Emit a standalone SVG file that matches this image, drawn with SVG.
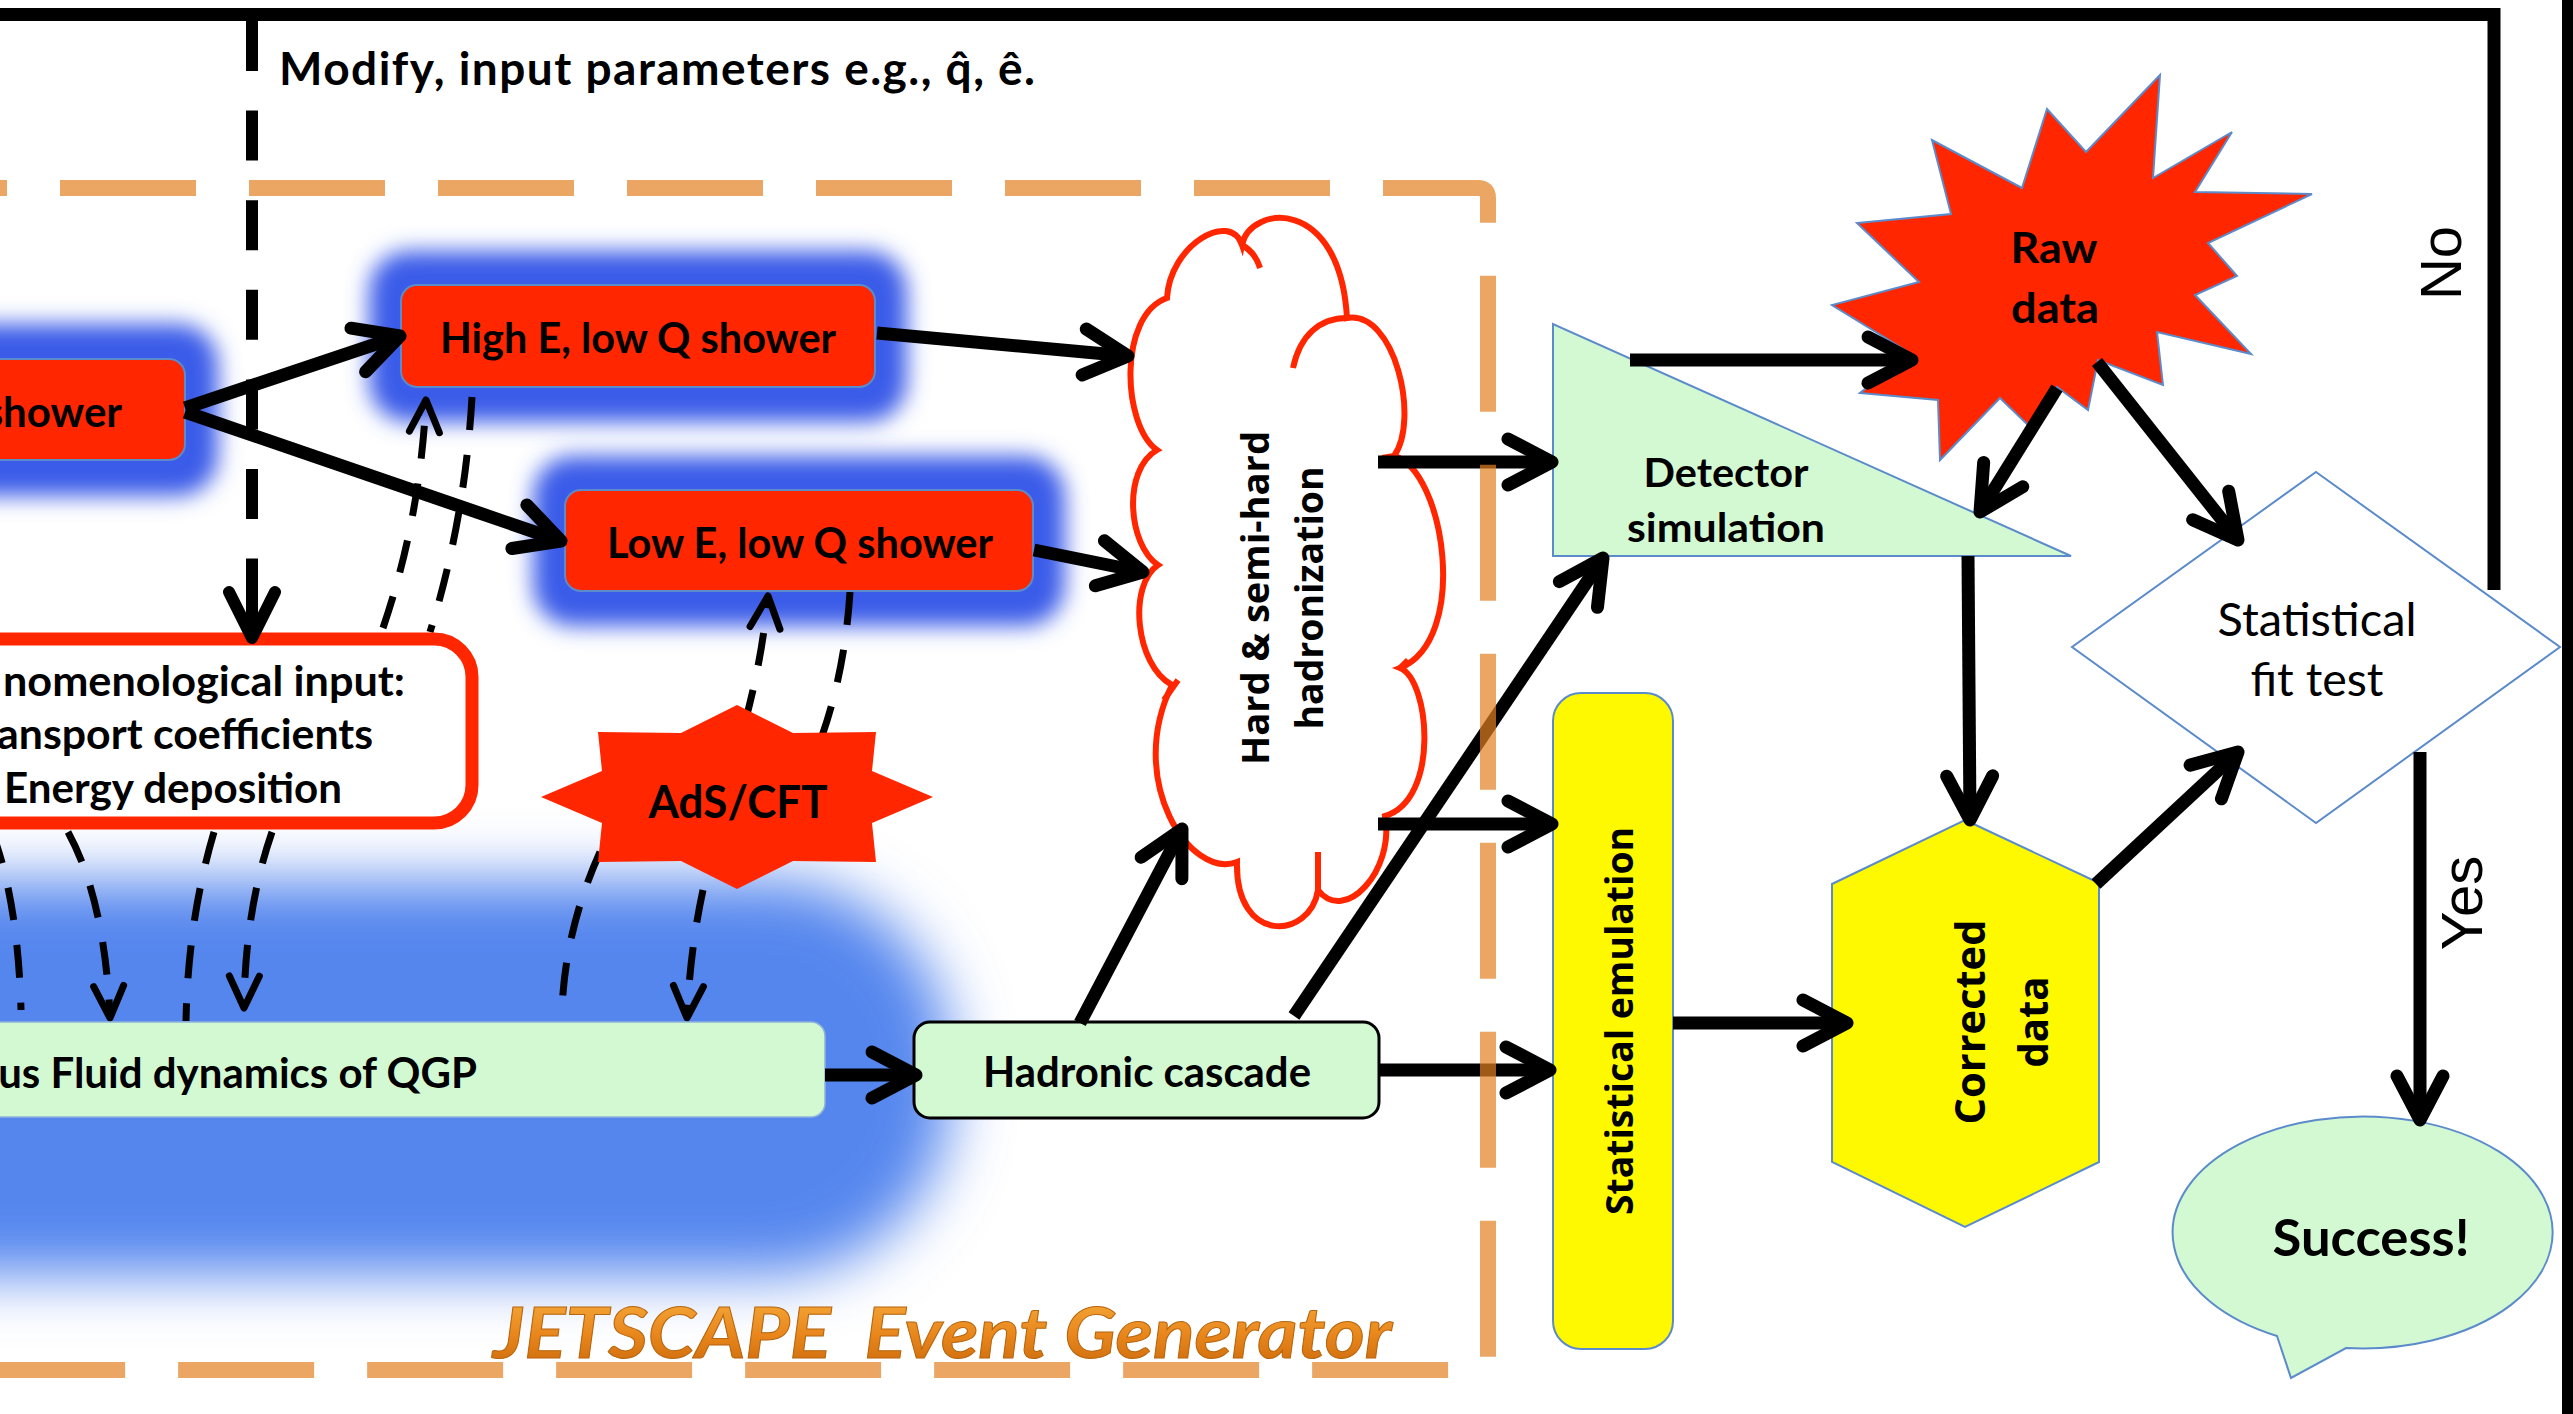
<svg xmlns="http://www.w3.org/2000/svg" width="2573" height="1414" viewBox="0 0 2573 1414">
<style>
.lato{font-family:Lato,"Liberation Sans",sans-serif;font-weight:700;fill:#000}
.latoR{font-family:Lato,"Liberation Sans",sans-serif;font-weight:400;fill:#000}
.os{font-family:"Open Sans","DejaVu Sans",sans-serif;font-weight:700;fill:#000}
.ar{font-family:"Liberation Sans",Arial,sans-serif;font-weight:400;fill:#000}
.thick{fill:none;stroke:#000;stroke-width:13;stroke-linecap:butt;marker-end:url(#ah)}
.dash{fill:none;stroke:#000;stroke-width:7;stroke-dasharray:33 25}
.dashA{fill:none;stroke:#000;stroke-width:7;stroke-dasharray:33 25;marker-end:url(#ahd)}
.redbox{fill:#FF2600;stroke:#5B8BCB;stroke-width:2}
.blueline{stroke:#5B8BCB;stroke-width:2}
.glow{fill:#3B5BE8;filter:url(#fGlow)}
</style>
<defs>
<filter id="fBig" x="-50%" y="-50%" width="200%" height="200%"><feGaussianBlur stdDeviation="30"/></filter>
<filter id="fGlow" x="-30%" y="-60%" width="160%" height="220%"><feGaussianBlur stdDeviation="11"/></filter>
<linearGradient id="gOrange" x1="0" y1="0" x2="0" y2="1">
<stop offset="0" stop-color="#F7B040"/><stop offset="0.55" stop-color="#E8861C"/><stop offset="1" stop-color="#C8660A"/>
</linearGradient>
<marker id="ah" markerUnits="userSpaceOnUse" orient="auto" overflow="visible" markerWidth="1" markerHeight="1" refX="0" refY="0">
<path d="M -44 -23 L 0 0 L -44 23" fill="none" stroke="#000" stroke-width="13" stroke-linecap="round" stroke-linejoin="round"/>
</marker>
<marker id="ahd" markerUnits="userSpaceOnUse" orient="auto" overflow="visible" markerWidth="1" markerHeight="1" refX="0" refY="0">
<path d="M -32 -15 L 0 0 L -32 15" fill="none" stroke="#000" stroke-width="7" stroke-linecap="round" stroke-linejoin="round"/>
</marker>
<marker id="ahm" markerUnits="userSpaceOnUse" orient="auto" overflow="visible" markerWidth="1" markerHeight="1" refX="0" refY="0">
<path d="M -46 -23 L 0 0 L -46 23" fill="none" stroke="#000" stroke-width="12" stroke-linecap="round" stroke-linejoin="round"/>
</marker>
</defs>
<rect x="0" y="0" width="2573" height="1414" fill="#fff"/>

<!-- background glows -->
<g id="glows">
<rect x="-300" y="880" width="1250" height="395" rx="180" fill="#5486EE" filter="url(#fBig)"/>
<rect class="glow" x="-60" y="324" width="278" height="172" rx="40"/>
<rect class="glow" x="369" y="251" width="538" height="171" rx="40"/>
<rect class="glow" x="533" y="456" width="532" height="170" rx="40"/>
</g>

<!-- dashed connectors (behind nodes) -->
<g id="connectors-dashed">
<path class="dashA" d="M 383 628 Q 420 520 426 400"/>
<path class="dash" d="M 472 397 Q 465 520 430 632"/>
<path class="dash" d="M -8 832 Q 18 900 21 1010"/>
<path class="dashA" d="M 68 832 Q 105 900 110 1018"/>
<path class="dash" d="M 214 832 Q 188 920 186 1021"/>
<path class="dashA" d="M 272 832 Q 245 910 244 1008"/>
<path class="dashA" d="M 745 722 Q 762 660 768 596"/>
<path class="dash" d="M 850 592 Q 845 670 822 736"/>
<path class="dash" d="M 600 852 Q 565 930 562 1010"/>
<path class="dashA" d="M 703 890 Q 690 950 687 1018"/>
</g>

<!-- nodes -->
<g id="node-shower">
<rect class="redbox" x="-30" y="359" width="215" height="101" rx="16"/>
<text class="lato" x="122" y="427" font-size="42" text-anchor="end">shower</text>
</g>
<g id="node-high-e">
<rect class="redbox" x="401" y="285" width="474" height="102" rx="16"/>
<text class="lato" x="638" y="353" font-size="42" text-anchor="middle" textLength="396" lengthAdjust="spacingAndGlyphs">High E, low Q shower</text>
</g>
<g id="node-low-e">
<rect class="redbox" x="565" y="490" width="468" height="101" rx="16"/>
<text class="lato" x="800" y="558" font-size="42" text-anchor="middle" textLength="386" lengthAdjust="spacingAndGlyphs">Low E, low Q shower</text>
</g>
<g id="node-phenomenological">
<rect x="-40" y="639" width="512" height="184" rx="38" fill="#fff" stroke="#FF2600" stroke-width="13"/>
<text class="lato" x="3" y="696" font-size="42" textLength="402" lengthAdjust="spacingAndGlyphs">nomenological input:</text>
<text class="lato" x="-3" y="749" font-size="42" textLength="376" lengthAdjust="spacingAndGlyphs">ansport coefficients</text>
<text class="lato" x="4" y="803" font-size="42" textLength="338" lengthAdjust="spacingAndGlyphs">Energy deposition</text>
</g>
<g id="node-adscft">
<polygon fill="#FF2600" points="933,797 872,771 876,732 793,733 737,705 681,733 598,732 602,771 541,797 602,823 598,862 681,861 737,889 793,861 876,862 872,823"/>
<text class="lato" x="738" y="818" font-size="46" text-anchor="middle" textLength="179" lengthAdjust="spacingAndGlyphs">AdS/CFT</text>
</g>
<g id="node-fluid">
<rect x="-30" y="1022" width="855" height="95" rx="14" fill="#D3F9D3" stroke="#8FB4D9" stroke-width="1.5"/>
<text class="lato" x="477" y="1088" font-size="42" text-anchor="end">us Fluid dynamics of QGP</text>
</g>
<g id="node-hadronic">
<rect x="914" y="1022" width="465" height="96" rx="16" fill="#D3F9D3" stroke="#000" stroke-width="3"/>
<text class="lato" x="1147" y="1087" font-size="42" text-anchor="middle" textLength="328" lengthAdjust="spacingAndGlyphs">Hadronic cascade</text>
</g>
<g id="node-hadronization">
<path d="M 1167 298 C 1170 245 1230 210 1242 245 C 1250 205 1340 195 1347 318 C 1395 310 1420 420 1394 456 C 1445 470 1470 640 1400 668 C 1430 680 1440 800 1385 816 C 1395 870 1345 925 1318 890 C 1310 940 1235 945 1237 862 C 1190 880 1125 780 1172 685 C 1135 665 1128 585 1158 565 C 1128 545 1122 470 1157 450 C 1122 425 1118 315 1167 298 Z" fill="#fff" stroke="#FF2600" stroke-width="6"/>
<path d="M 1242 245 Q 1255 252 1260 268 M 1293 368 C 1300 335 1320 318 1347 318 M 1318 852 L 1318 890 M 1164 700 L 1178 680 M 1394 456 L 1382 458 M 1400 668 L 1408 660" fill="none" stroke="#FF2600" stroke-width="6"/>
<text class="os" transform="translate(1269 598) rotate(-90)" font-size="38" text-anchor="middle" textLength="334" lengthAdjust="spacingAndGlyphs">Hard &amp; semi-hard</text>
<text class="os" transform="translate(1323 598) rotate(-90)" font-size="38" text-anchor="middle" textLength="263" lengthAdjust="spacingAndGlyphs">hadronization</text>
</g>
<g id="node-detector">
<polygon points="1553,324 1553,556 2071,556" fill="#D3F9D3" class="blueline"/>
<text class="lato" x="1726" y="487" font-size="40" text-anchor="middle" textLength="165" lengthAdjust="spacingAndGlyphs">Detector</text>
<text class="lato" x="1726" y="542" font-size="40" text-anchor="middle" textLength="198" lengthAdjust="spacingAndGlyphs">simulation</text>
</g>
<g id="node-raw-data">
<polygon fill="#FF2600" class="blueline" points="2160,75 2153,178 2232,132 2195,192 2312,194 2208,243 2237,276 2195,295 2251,354 2157,332 2163,385 2098,360 2088,410 2057,387 2030,427 2000,398 1940,460 1938,400 1860,393 1910,353 1832,305 1919,282 1857,223 1951,214 1932,140 2022,188 2047,109 2086,152"/>
<text class="lato" x="2054" y="263" font-size="42" text-anchor="middle" textLength="87" lengthAdjust="spacingAndGlyphs">Raw</text>
<text class="lato" x="2055" y="323" font-size="42" text-anchor="middle" textLength="88" lengthAdjust="spacingAndGlyphs">data</text>
</g>
<g id="node-fit-test">
<polygon points="2316,472 2560,647 2316,823 2072,647" fill="#fff" class="blueline"/>
<text class="latoR" x="2317" y="636" font-size="46" text-anchor="middle" textLength="199" lengthAdjust="spacingAndGlyphs">Statistical</text>
<text class="latoR" x="2317" y="696" font-size="46" text-anchor="middle" textLength="133" lengthAdjust="spacingAndGlyphs">fit test</text>
</g>
<g id="node-emulation">
<rect x="1553" y="693" width="120" height="656" rx="28" fill="#FFF900" class="blueline"/>
<text class="os" transform="translate(1633 1021) rotate(-90)" font-size="38" text-anchor="middle" textLength="388" lengthAdjust="spacingAndGlyphs">Statistical emulation</text>
</g>
<g id="node-corrected">
<polygon points="1965,820 2099,883 2099,1162 1965,1227 1832,1162 1832,884" fill="#FFF900" class="blueline"/>
<text class="os" transform="translate(1985 1022) rotate(-90)" font-size="41" text-anchor="middle" textLength="205" lengthAdjust="spacingAndGlyphs">Corrected</text>
<text class="os" transform="translate(2048 1022) rotate(-90)" font-size="41" text-anchor="middle" textLength="91" lengthAdjust="spacingAndGlyphs">data</text>
</g>
<g id="node-success">
<path d="M 2346 1348 A 190 116 0 1 0 2277 1336 L 2291 1378 Z" fill="#D3F9D3" class="blueline"/>
<text class="lato" x="2371" y="1256" font-size="52" text-anchor="middle" textLength="197" lengthAdjust="spacingAndGlyphs">Success!</text>
</g>

<!-- solid connectors -->
<g id="connectors">
<path class="thick" d="M 185 408 L 400 336"/>
<path class="thick" d="M 185 412 L 561 541"/>
<path class="thick" d="M 877 333 L 1128 356"/>
<path class="thick" d="M 1034 550 L 1143 572"/>
<path class="thick" d="M 825 1075 L 916 1075"/>
<path class="thick" d="M 1080 1023 L 1182 829"/>
<path class="thick" d="M 1294 1016 L 1603 558"/>
<path class="thick" d="M 1379 1070 L 1550 1070"/>
<path class="thick" d="M 1378 462 L 1552 462"/>
<path class="thick" d="M 1378 824 L 1552 824"/>
<path class="thick" d="M 1630 360 L 1912 360"/>
<path class="thick" d="M 2057 388 L 1980 512"/>
<path class="thick" d="M 2097 362 L 2238 540"/>
<path class="thick" d="M 1968 556 L 1970 820"/>
<path class="thick" d="M 1673 1023 L 1847 1023"/>
<path class="thick" d="M 2096 884 L 2238 752"/>
<path class="thick" d="M 2420 752 L 2420 1120"/>
<polyline points="2494,590 2494,14.5 -10,14.5" fill="none" stroke="#000" stroke-width="13"/>
<path d="M 252 21 V 600" fill="none" stroke="#000" stroke-width="12" stroke-dasharray="50 39.6"/>
<path d="M 252 559 V 638" fill="none" stroke="#000" stroke-width="12" marker-end="url(#ahm)"/>
</g>

<!-- labels -->
<g id="labels">
<text class="lato" x="279" y="85" font-size="46" textLength="756" lengthAdjust="spacing">Modify, input parameters e.g., q&#x302;, &#xEA;.</text>
<text class="ar" transform="translate(2461 263) rotate(-90)" font-size="58" text-anchor="middle">No</text>
<text class="ar" transform="translate(2482 903) rotate(-90)" font-size="58" text-anchor="middle">Yes</text>
</g>

<!-- JETSCAPE frame -->
<g id="jetscape-frame">
<path d="M -129 188 H 1478 Q 1488 188 1488 198 V 1370 H -300" fill="none" stroke="#E48022" stroke-opacity="0.7" stroke-width="16" stroke-dasharray="136 53"/>
<text x="493" y="1358" font-family="Lato,'Liberation Sans',sans-serif" font-weight="700" font-style="italic" font-size="70" fill="url(#gOrange)" stroke="#B8650E" stroke-width="1" textLength="899" lengthAdjust="spacingAndGlyphs" xml:space="preserve">JETSCAPE  Event Generator</text>
</g>

<rect x="2562" y="0" width="11" height="1414" fill="#000"/>
</svg>
